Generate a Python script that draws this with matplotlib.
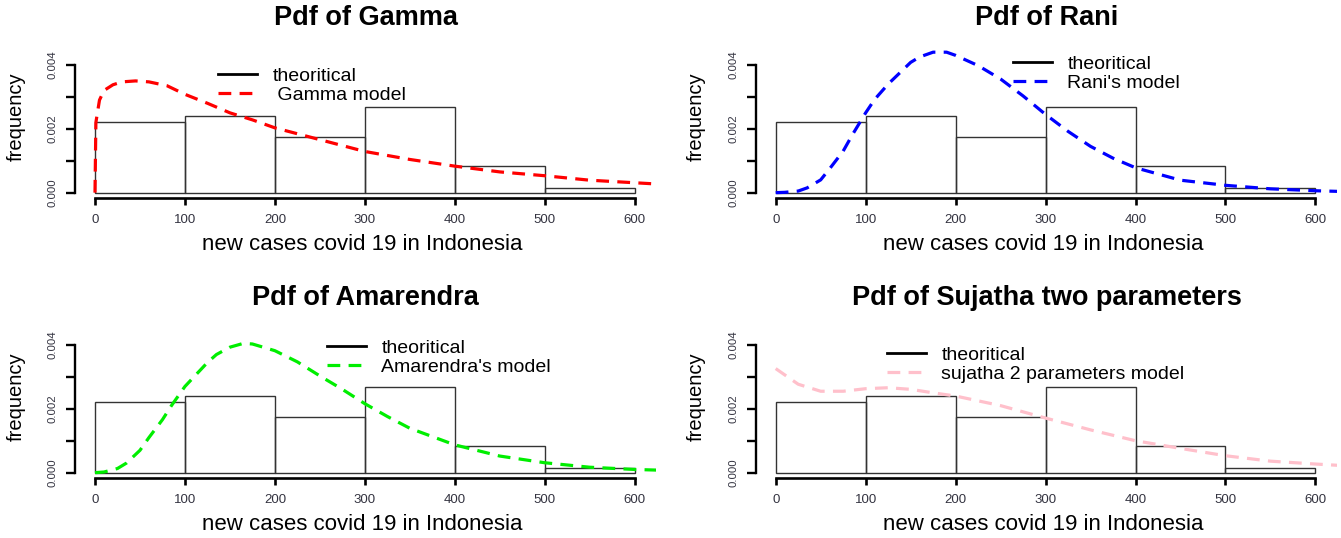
import matplotlib.pyplot as plt
from matplotlib.lines import Line2D

plt.rcParams['font.family'] = ['Liberation Sans', 'DejaVu Sans']

W, H = 1341, 538

# histogram (density) of new covid-19 cases, bins of 100
bin_left = [0, 100, 200, 300, 400, 500]
density = [0.002227, 0.002396, 0.001752, 0.002691, 0.000823, 0.000148]

# fitted pdf curves
gamma_x = [0, 1, 5, 10, 20, 30, 45, 60, 80, 100, 125, 150, 175, 200, 250, 300,
           350, 400, 450, 500, 550, 600, 625]
gamma_y = [0, 0.0022, 0.0029, 0.0032, 0.00338, 0.00347, 0.0035, 0.00347, 0.00335,
           0.00308, 0.0028, 0.0025, 0.00228, 0.00203, 0.00166, 0.00129,
           0.00104, 0.00083, 0.00065, 0.00053, 0.00039, 0.00031, 0.00027]

rani_x = [0, 10, 25, 35, 50, 60, 75, 85, 100, 110, 125, 150, 160, 175, 190,
          200, 225, 250, 275, 300, 325, 350, 375, 400, 450, 500, 550, 600, 625]
rani_y = [0, 0.00001, 0.00005, 0.00015, 0.0004, 0.00075, 0.0013, 0.0018,
          0.0025, 0.00292, 0.0034, 0.00408, 0.00425, 0.0044, 0.0044, 0.0043,
          0.00398, 0.00356, 0.00303, 0.00245, 0.00192, 0.00145, 0.00108,
          0.00078, 0.00039, 0.00023, 0.00012, 0.00006, 0.00004]

amar_x = [0, 10, 25, 35, 50, 60, 75, 85, 100, 110, 125, 135, 150, 165, 175,
          200, 225, 250, 275, 300, 325, 350, 400, 450, 500, 550, 600, 625]
amar_y = [0, 0.00002, 0.00013, 0.0003, 0.0007, 0.0011, 0.00166, 0.0021,
          0.0027, 0.003, 0.00345, 0.0037, 0.00393, 0.00405, 0.00403, 0.00382,
          0.00347, 0.00303, 0.00261, 0.00216, 0.00176, 0.00139, 0.00087,
          0.00052, 0.00031, 0.00017, 0.0001, 0.00008]

suja_x = [0, 25, 50, 75, 100, 125, 150, 175, 200, 250, 300, 350, 400, 450,
          500, 550, 600, 625]
suja_y = [0.00326, 0.00277, 0.00255, 0.00255, 0.00263, 0.00266, 0.00261,
          0.0025, 0.0024, 0.0021, 0.00171, 0.00134, 0.001, 0.00076, 0.00053,
          0.00036, 0.00027, 0.00023]

titles = ['Pdf of Gamma', 'Pdf of Rani', 'Pdf of Amarendra',
          'Pdf of Sujatha two parameters']
model_labels = [' Gamma model', "Rani's model", "Amarendra's model",
                'sujatha 2 parameters model']
colors = ['#ff0000', '#0000ff', '#00ee00', '#ffc0cb']
curves = [(gamma_x, gamma_y), (rani_x, rani_y), (amar_x, amar_y), (suja_x, suja_y)]

# layout in pixels
col_left = [75.2, 755.9]
axw = 581.1
row_bottom = [198.4, 478.4]
axh = 152.6
legend_pos = [(218, 67), (1013, 55), (327, 339), (887, 346)]

fig = plt.figure(figsize=(W / 100, H / 100), dpi=100)

for i in range(4):
    r, c = divmod(i, 2)
    left = col_left[c]
    bottom = row_bottom[r]
    ax = fig.add_axes([left / W, 1 - bottom / H, axw / W, axh / H])
    ax.set_xlim(-22, 624)
    ax.set_ylim(-0.00018, 0.0046)

    ax.bar(bin_left, density, width=100, align='edge', fill=False,
           edgecolor='#333333', linewidth=1)
    x, y = curves[i]
    ax.plot(x, y, color=colors[i], linewidth=2.3, linestyle=(0, (4, 2.6)))

    for s in ['top', 'right']:
        ax.spines[s].set_visible(False)
    ax.spines['left'].set_bounds(0, 0.004)
    ax.spines['bottom'].set_bounds(0, 600)
    ax.spines['left'].set_linewidth(1.7)
    ax.spines['bottom'].set_linewidth(1.9)

    ax.set_xticks([0, 100, 200, 300, 400, 500, 600])
    ax.set_xticklabels(['0', '100', '200', '300', '400', '500', '600'])
    ax.set_yticks([0, 0.001, 0.002, 0.003, 0.004])
    ax.set_yticklabels(['0.000', '', '0.002', '', '0.004'], rotation=90,
                       va='center')
    ax.tick_params(axis='x', length=5, width=1.9, pad=6, labelsize=9.5,
                   labelcolor='#333340')
    ax.tick_params(axis='y', length=6.5, width=1.7, pad=6, labelsize=8.2,
                   labelcolor='#333340')

    cx = (left + axw / 2) / W
    top_off = r * 280
    fig.text(cx, 1 - (18 + top_off) / H, titles[i], ha='center', va='center',
             fontsize=19.5, fontweight='bold')
    fig.text(cx - 3 / W, 1 - (244 + top_off) / H,
             'new cases covid 19 in Indonesia', ha='center', va='center',
             fontsize=16)
    fig.text((16 + c * 680.7) / W, 1 - (117 + top_off) / H, 'frequency',
             rotation=90, ha='center', va='center', fontsize=14.5)

    handles = [Line2D([], [], color='black', linewidth=2),
               Line2D([], [], color=colors[i], linewidth=2.3,
                      linestyle=(0, (4, 2.6)))]
    lx, ly = legend_pos[i]
    ax.legend(handles, ['theoritical', model_labels[i]], loc='upper left',
              bbox_to_anchor=(lx / W, 1 - ly / H),
              bbox_transform=fig.transFigure, frameon=False, fontsize=14,
              handlelength=2.0, handletextpad=0.8, labelspacing=0.1,
              borderpad=0, borderaxespad=0)

fig.savefig('out.png', dpi=100)
